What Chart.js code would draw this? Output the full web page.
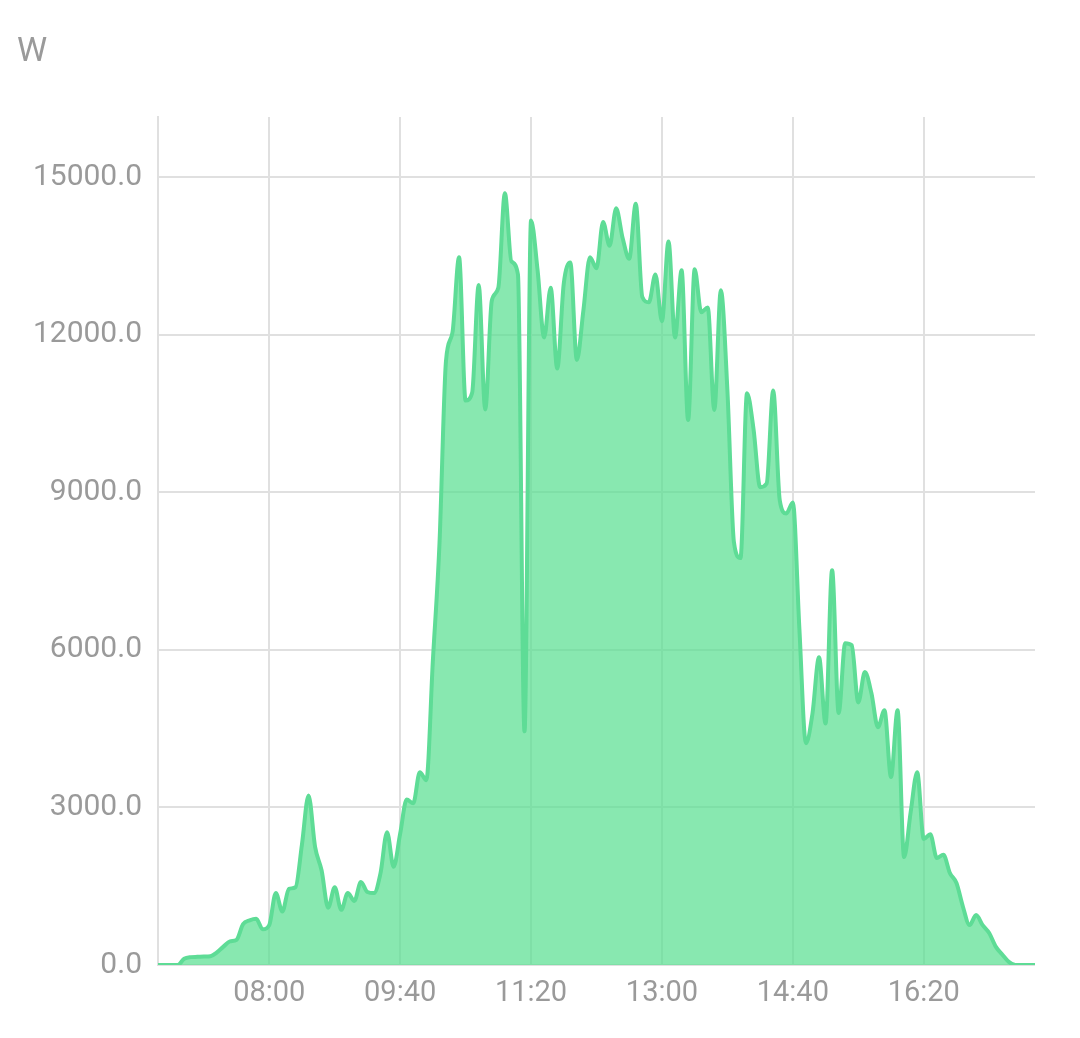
<!DOCTYPE html>
<html><head><meta charset="utf-8">
<script src="https://cdn.jsdelivr.net/npm/chart.js@4/dist/chart.umd.min.js"></script>
<style>
html,body{margin:0;padding:0;background:#fff;}
#wrap{position:relative;width:1080px;height:1038px;}
#unit{position:absolute;left:17px;top:32px;font-family:Roboto, sans-serif;font-size:34px;line-height:34px;color:#9a9a9a;}
canvas{display:block;}
</style></head><body>
<div id="wrap"><div id="unit">W</div><canvas id="c" width="1080" height="1038"></canvas></div>
<script>
const startTime = "06:35";
const intervalMinutes = 5;
const powerW = [
  0, 0, 0, 0, 120, 150, 155, 160, 165, 240,
  350, 450, 480, 780, 850, 880, 680, 760, 1370, 1020,
  1450, 1480, 2300, 3230, 2250, 1800, 1090, 1480, 1050, 1370,
  1220, 1580, 1390, 1370, 1750, 2530, 1870, 2500, 3150, 3080,
  3670, 3520, 5800, 8000, 11500, 12050, 13480, 10750, 10900, 12950,
  10580, 12650, 12900, 14700, 13400, 13150, 4450, 14180, 13230, 11950,
  12900, 11360, 12980, 13380, 11520, 12470, 13480, 13270, 14150, 13700,
  14410, 13840, 13450, 14500, 12720, 12620, 13150, 12260, 13780, 11950,
  13230, 10380, 13250, 12430, 12520, 10570, 12850, 10950, 8050, 7750,
  10890, 10200, 9100, 9170, 10940, 8850, 8600, 8810, 6400, 4225,
  4790, 5860, 4600, 7520, 4800, 6130, 6090, 5000, 5580, 5180,
  4530, 4850, 3580, 4850, 2055, 2910, 3670, 2400, 2490, 2040,
  2100, 1750, 1560, 1105, 760, 950, 760, 610, 350, 200,
  60, 0, 0, 0, 0
];
const xTickLabels = ["08:00","09:40","11:20","13:00","14:40","16:20"];
const yTickValues = [0, 3000, 6000, 9000, 12000, 15000];
const yMax = 16150;
const unitLabel = "W";

function toMin(s){ const p = s.split(":"); return (+p[0])*60 + (+p[1]); }
function toHHMM(m){ const h = Math.floor(m/60), mm = Math.round(m%60); return String(h).padStart(2,"0")+":"+String(mm).padStart(2,"0"); }

document.getElementById("unit").textContent = unitLabel;
const start = toMin(startTime);
const points = powerW.map((v,i)=>({x: start + i*intervalMinutes, y: v}));
const xMin = start, xMax = start + (powerW.length-1)*intervalMinutes;
const xTicks = xTickLabels.map(toMin);

const FONT = "Roboto, 'Noto Sans', sans-serif";
const GRAY = "#9a9a9a";
const GRID = "#e0e0e0";

new Chart(document.getElementById("c"), {
  type: "line",
  data: { datasets: [{
    data: points,
    borderColor: "#5edc96",
    backgroundColor: "rgba(86,222,142,0.70)",
    borderWidth: 4,
    fill: "origin",
    pointRadius: 0,
    cubicInterpolationMode: "monotone"
  }]},
  options: {
    responsive: false,
    animation: false,
    devicePixelRatio: 1,
    layout: { padding: { left: 0, right: 45, top: 117, bottom: 0 } },
    plugins: { legend: { display: false }, tooltip: { enabled: false } },
    scales: {
      x: {
        type: "linear", min: xMin, max: xMax,
        afterBuildTicks: s => { s.ticks = xTicks.map(v=>({value:v})); },
        afterFit: s => { s.height = 73; },
        ticks: { color: GRAY, font: { family: FONT, size: 29 }, padding: 11, maxRotation: 0, autoSkip: false,
                 callback: v => toHHMM(v) },
        grid: { color: GRID, lineWidth: 2, drawTicks: false },
        border: { display: false }
      },
      y: {
        min: 0, max: yMax,
        afterBuildTicks: s => { s.ticks = yTickValues.map(v=>({value:v})); },
        afterFit: s => { s.width = 158; },
        ticks: { color: GRAY, font: { family: FONT, size: 30 }, padding: 16,
                 callback: v => Number(v).toFixed(1) },
        grid: { color: GRID, lineWidth: 2, drawTicks: false },
        border: { display: true, color: GRID, width: 2 }
      }
    }
  }
});
</script>
</body></html>
